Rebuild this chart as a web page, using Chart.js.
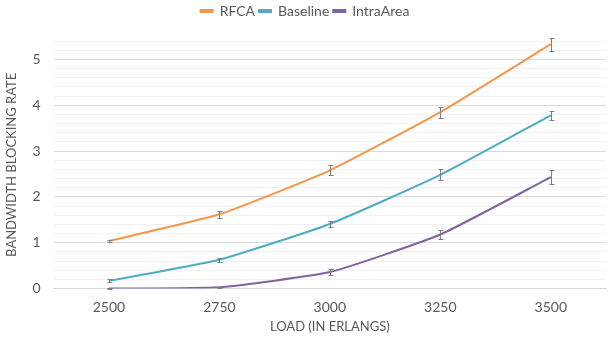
<!DOCTYPE html>
<html>
<head>
<meta charset="utf-8">
<script src="https://cdn.jsdelivr.net/npm/chart.js@4/dist/chart.umd.min.js"></script>
<style>
  html, body { margin: 0; padding: 0; background: #fff; }
  #wrap { width: 612px; height: 342px; }
</style>
</head>
<body>
<div id="wrap"><canvas id="canvasChart" width="612" height="342"></canvas></div>
<script>
"use strict";

// data
var loads = ['2500', '2750', '3000', '3250', '3500'];
var rfca = [1.04, 1.62, 2.58, 3.85, 5.33];
var baseline = [0.17, 0.63, 1.41, 2.48, 3.78];
var intraArea = [0.0, 0.03, 0.36, 1.18, 2.43];
var rfcaErr = [0.03, 0.07, 0.11, 0.12, 0.14];
var baselineErr = [0.03, 0.04, 0.07, 0.12, 0.10];
var intraAreaErr = [0.01, 0.01, 0.06, 0.09, 0.15];

var lineColors = ['#F79646', '#4BACC6', '#8064A2'];
var textColor = '#595959';
var fontFamily = 'Lato';

// draws the little I-shaped error bars on top of each point
var errorBarPlugin = {
	id: 'errorBars',
	afterDatasetsDraw: function (chart) {
		var ctx = chart.ctx;
		var yScale = chart.scales.y;
		ctx.save();
		ctx.strokeStyle = '#7F7F7F';
		ctx.lineWidth = 1;
		chart.data.datasets.forEach(function (ds, i) {
			var meta = chart.getDatasetMeta(i);
			meta.data.forEach(function (pt, j) {
				var e = ds.errors[j];
				var top = Math.round(yScale.getPixelForValue(ds.data[j] + e)) + 0.5;
				var bot = Math.round(yScale.getPixelForValue(ds.data[j] - e)) + 0.5;
				var x = Math.round(pt.x) + 0.5;
				ctx.beginPath();
				ctx.moveTo(x, top);
				ctx.lineTo(x, bot);
				ctx.moveTo(x - 2, top);
				ctx.lineTo(x + 3, top);
				ctx.moveTo(x - 2, bot);
				ctx.lineTo(x + 3, bot);
				ctx.stroke();
			});
		});
		ctx.restore();
	}
};

// extra room under the legend
var legendSpacer = {
	id: 'legendSpacer',
	beforeInit: function (chart) {
		var origFit = chart.legend.fit;
		chart.legend.fit = function () {
			origFit.bind(chart.legend)();
			this.height += 13;
		};
	}
};

function MakeDataset(label, data, errors, color) {
	return {
		label: label,
		data: data,
		errors: errors,
		borderColor: color,
		backgroundColor: color,
		borderWidth: 2,
		pointRadius: 0,
		tension: 0.15,
		fill: false
	};
}

const context = document.getElementById('canvasChart');
const myChart = new Chart(context, {
	type: 'line',
	data: {
		labels: loads,
		datasets: [
			MakeDataset('RFCA', rfca, rfcaErr, lineColors[0]),
			MakeDataset('Baseline', baseline, baselineErr, lineColors[1]),
			MakeDataset('IntraArea', intraArea, intraAreaErr, lineColors[2])
		]
	},
	options: {
		responsive: false,
		animation: false,
		layout: { padding: { left: 4, right: 6, top: 0, bottom: 7 } },
		plugins: {
			legend: {
				position: 'top',
				labels: {
					boxWidth: 12,
					boxHeight: 2,
					padding: 4,
					color: textColor,
					font: { family: fontFamily, size: 14 }
				}
			},
			tooltip: { enabled: false }
		},
		scales: {
			x: {
				offset: true,
				grid: { display: false, drawTicks: false },
				border: { color: '#D9D9D9' },
				ticks: { color: textColor, font: { family: fontFamily, size: 14 }, padding: 10 },
				title: {
					display: true,
					text: 'LOAD (IN ERLANGS)',
					color: textColor,
					font: { family: fontFamily, size: 13 },
					padding: { top: -6, bottom: 0 }
				}
			},
			y: {
				min: 0,
				max: 5.4,
				ticks: {
					stepSize: 0.2,
					autoSkip: false,
					color: textColor,
					font: { family: fontFamily, size: 14 },
					padding: 13,
					callback: function (v) {
						var r = Math.round(v * 10) / 10;
						return Number.isInteger(r) ? r : '';
					}
				},
				grid: {
					drawTicks: false,
					color: function (c) {
						var v = Math.round(c.tick.value * 10) / 10;
						return Number.isInteger(v) ? '#D9D9D9' : '#F2F2F2';
					}
				},
				border: { display: false },
				title: {
					display: true,
					text: 'BANDWIDTH BLOCKING RATE',
					color: textColor,
					font: { family: fontFamily, size: 13 },
					padding: { top: 0, bottom: 0 }
				}
			}
		}
	},
	plugins: [errorBarPlugin, legendSpacer]
});
</script>
</body>
</html>
